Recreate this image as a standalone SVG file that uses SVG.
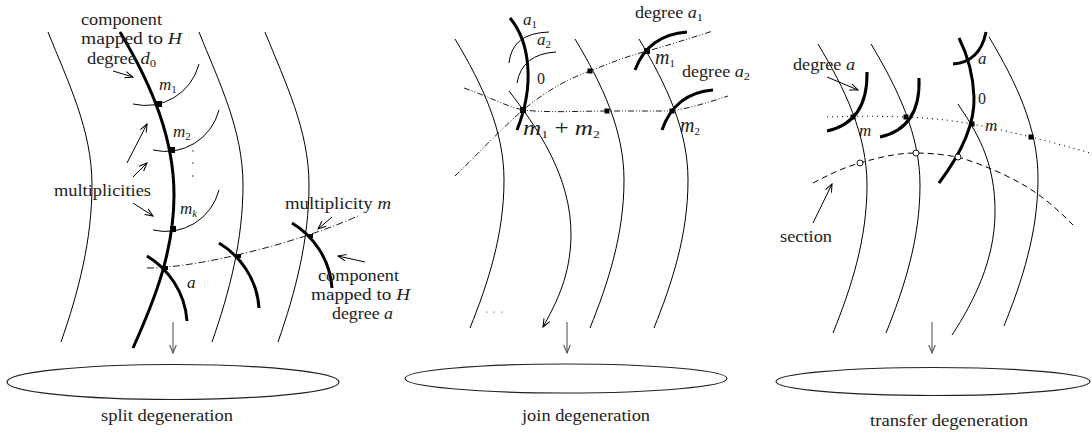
<svg xmlns="http://www.w3.org/2000/svg" width="1092" height="447" viewBox="0 0 1092 447">
<defs>
<style>
.thin{fill:none;stroke:#000;stroke-width:1}
.thick{fill:none;stroke:#000;stroke-width:3}
.dd1{fill:none;stroke:#000;stroke-width:0.9;stroke-dasharray:7 2.5 1 2.5}
.dd2{fill:none;stroke:#000;stroke-width:0.9;stroke-dasharray:6 2 1 2 1 2}
.dot{fill:none;stroke:#000;stroke-width:1.1;stroke-dasharray:1 4}
.dash{fill:none;stroke:#000;stroke-width:1;stroke-dasharray:6 4}
.arr{fill:none;stroke:#000;stroke-width:1;marker-end:url(#ah)}
.down{fill:none;stroke:#555;stroke-width:1.1;marker-end:url(#ahg)}
.base{fill:none;stroke:#222;stroke-width:1.2}
.sq{fill:#000}
.tiny{fill:#333}
.oc{fill:#fff;stroke:#000;stroke-width:0.9}
text{font-family:"Liberation Serif","Times New Roman",serif;fill:#222}
.t{font-size:16px}
.mi{font-size:17px;font-style:italic}
.mb{font-size:20px;font-style:italic}
.it{font-style:italic}
.up{font-style:normal}
.sub{font-size:11px;font-style:normal}
.subi{font-size:11px;font-style:italic}
</style>
<marker id="ah" viewBox="-10 -5 11 10" refX="0" refY="0" markerWidth="11" markerHeight="10" markerUnits="userSpaceOnUse" orient="auto"><path d="M-8,-3.3 L0,0 L-8,3.3" fill="none" stroke="#000" stroke-width="1"/></marker>
<marker id="ahg" viewBox="-10 -5 11 10" refX="0" refY="0" markerWidth="11" markerHeight="10" markerUnits="userSpaceOnUse" orient="auto"><path d="M-8,-3.3 L0,0 L-8,3.3" fill="none" stroke="#555" stroke-width="1.1"/></marker>
<path id="lc" d="M0,0 C20,50 44,98 44,153 C44,208 30.5,260 13,310"/>
<path id="mc" d="M0,0 C27,45 49,91 49,141 C49,196 33,244 15,289"/>
<path id="ma" d="M0,0 A55,55 0 0,0 66,-40"/>
<path id="sa" d="M0,0 C20,12 38,35 40,65"/>
</defs>
<rect width="1092" height="447" fill="#fff"/>

<!-- LEFT PANEL: split degeneration -->
<g id="split">
  <use href="#lc" x="48" y="32" class="thin"/>
  <use href="#lc" x="199" y="32" class="thin"/>
  <use href="#lc" x="265" y="32" class="thin"/>
  <path class="thick" d="M120,32 C153,87 174,140 174,195 C174,250 155.5,298 133,348"/>
  <use href="#ma" x="133" y="104" class="thin"/>
  <use href="#ma" x="153" y="150" class="thin"/>
  <use href="#ma" x="153" y="230" class="thin"/>
  <rect class="sq" x="156" y="101" width="6" height="6"/>
  <rect class="sq" x="169" y="147" width="6" height="6"/>
  <rect class="sq" x="170" y="226" width="6" height="6"/>
  <circle class="tiny" cx="193" cy="151" r="0.8"/>
  <circle class="tiny" cx="193" cy="163" r="0.8"/>
  <circle class="tiny" cx="193" cy="176" r="0.8"/>
  <path class="dd1" d="M147,268 C200,268 300,242 358,216"/>
  <use href="#sa" x="147" y="256" class="thick"/>
  <use href="#sa" x="219" y="243" class="thick"/>
  <use href="#sa" x="292" y="223" class="thick"/>
  <rect class="sq" x="164" y="266" width="4" height="4"/>
  <rect class="sq" x="237" y="254" width="4" height="4"/>
  <rect class="sq" x="309" y="234" width="4" height="4"/>
  <ellipse class="base" cx="173" cy="382" rx="166" ry="17.5"/>
  <text class="t" x="81" y="25" textLength="81" lengthAdjust="spacingAndGlyphs">component</text>
  <text class="t" x="81" y="44" textLength="101" lengthAdjust="spacingAndGlyphs">mapped to <tspan class="it">H</tspan></text>
  <text class="t" x="87" y="64" textLength="69" lengthAdjust="spacingAndGlyphs">degree <tspan class="it">d</tspan><tspan class="sub" dy="3">0</tspan></text>
  <text class="mi" x="159" y="90">m<tspan class="sub" dy="3">1</tspan></text>
  <text class="mi" x="173" y="137">m<tspan class="sub" dy="3">2</tspan></text>
  <text class="mi" x="180" y="214">m<tspan class="subi" dy="3">k</tspan></text>
  <text class="t" x="54" y="196" textLength="97" lengthAdjust="spacingAndGlyphs">multiplicities</text>
  <text class="mi" x="187" y="288">a</text>
  <text class="t" x="285" y="209" textLength="106" lengthAdjust="spacingAndGlyphs">multiplicity <tspan class="it">m</tspan></text>
  <text class="t" x="318" y="281" textLength="81" lengthAdjust="spacingAndGlyphs">component</text>
  <text class="t" x="311" y="300" textLength="99" lengthAdjust="spacingAndGlyphs">mapped to <tspan class="it">H</tspan></text>
  <text class="t" x="332" y="319" textLength="61" lengthAdjust="spacingAndGlyphs">degree <tspan class="it">a</tspan></text>
  <text class="t" x="167" y="421" text-anchor="middle" textLength="132" lengthAdjust="spacingAndGlyphs">split degeneration</text>
</g>

<!-- MIDDLE PANEL: join degeneration -->
<g id="join">
  <use href="#mc" x="455" y="39" class="thin"/>
  <use href="#mc" x="575" y="39" class="thin"/>
  <use href="#mc" x="639" y="39" class="thin"/>
  <path class="thin" d="M509,91 C535,125 572,175 571,237 C570,275 558,300 543,327" marker-end="url(#ah)"/>
  <path class="thick" d="M510,18 C530,42 535,85 517,130"/>
  <path class="thin" d="M509,63 Q512,33 549,32"/>
  <path class="thin" d="M517,83 Q522,54 556,52"/>
  <path class="dd2" d="M455,176 C480,152 500,130 523,110 C545,92 565,80 590,71 C610,63 625,57 647,51 C670,45 690,38 713,31"/>
  <path class="dd2" d="M464,88 C490,97 505,106 523,110 C550,113 580,111 607,111 C630,111 650,111 672,111 C690,108 710,102 728,96"/>
  <path class="thick" d="M635,70 Q648,35 687,32"/>
  <path class="thick" d="M662,130 Q675,93 713,90"/>
  <rect class="sq" x="520" y="107" width="6" height="6"/>
  <rect class="sq" x="587.5" y="68.5" width="5" height="5"/>
  <rect class="sq" x="644" y="48" width="6" height="6"/>
  <rect class="sq" x="604.5" y="108.5" width="5" height="5"/>
  <rect class="sq" x="669.5" y="108.5" width="5" height="5"/>
  <circle class="tiny" cx="487" cy="312" r="0.6"/>
  <circle class="tiny" cx="494" cy="312" r="0.6"/>
  <circle class="tiny" cx="502" cy="312" r="0.6"/>
  <ellipse class="base" cx="566" cy="378.5" rx="161" ry="14.5"/>
  <text class="mi" x="523" y="25">a<tspan class="sub" dy="3">1</tspan></text>
  <text class="mi" x="537" y="45">a<tspan class="sub" dy="3">2</tspan></text>
  <text class="t" x="537" y="84" font-size="17">0</text>
  <text class="mb" x="523" y="135" textLength="77" lengthAdjust="spacingAndGlyphs">m<tspan class="sub" dy="3">1</tspan><tspan class="up" dy="-3"> + </tspan>m<tspan class="sub" dy="3">2</tspan></text>
  <text class="t" x="635" y="18" textLength="68" lengthAdjust="spacingAndGlyphs">degree <tspan class="it">a</tspan><tspan class="sub" dy="3">1</tspan></text>
  <text class="mb" x="655" y="64">m<tspan class="sub" dy="3">1</tspan></text>
  <text class="t" x="682" y="77" textLength="68" lengthAdjust="spacingAndGlyphs">degree <tspan class="it">a</tspan><tspan class="sub" dy="3">2</tspan></text>
  <text class="mb" x="680" y="132">m<tspan class="sub" dy="3">2</tspan></text>
  <text class="t" x="586" y="421" text-anchor="middle" textLength="128" lengthAdjust="spacingAndGlyphs">join degeneration</text>
</g>

<!-- RIGHT PANEL: transfer degeneration -->
<g id="transfer">
  <use href="#mc" x="818" y="44" class="thin"/>
  <use href="#mc" x="871" y="44" class="thin"/>
  <use href="#mc" x="989" y="37" class="thin"/>
  <path class="thin" d="M958,104 C975,130 996,160 995,215 C994,260 975,300 952,335"/>
  <path class="thick" d="M827,131 Q868,122 867,72"/>
  <path class="thick" d="M880,137 Q921,128 919,78"/>
  <path class="thick" d="M939,183 C960,155 975,125 974,97 C973,70 966,52 959,38"/>
  <path class="thick" d="M953,64 Q980,62 986,32"/>
  <path class="dot" d="M827,117 C860,116 880,116 906,117 C930,118 950,120 972,124 C992,128 1010,132 1031,137 C1050,142 1070,147 1090,153"/>
  <path class="dash" d="M813,183 C830,174 845,167 860,163 C880,157 898,153 916,153 C932,153 945,155 958,157 C985,165 1020,180 1043,198 C1055,207 1065,217 1075,227"/>
  <rect class="sq" x="850.5" y="114.5" width="5" height="5"/>
  <rect class="sq" x="903.5" y="114.5" width="5" height="5"/>
  <rect class="sq" x="969.5" y="121.5" width="5" height="5"/>
  <rect class="sq" x="1028.5" y="134.5" width="5" height="5"/>
  <circle class="oc" cx="860" cy="163" r="3"/>
  <circle class="oc" cx="916" cy="153" r="3"/>
  <circle class="oc" cx="958" cy="157" r="3"/>
  <ellipse class="base" cx="933" cy="381.5" rx="157" ry="14"/>
  <text class="t" x="793" y="70" textLength="62" lengthAdjust="spacingAndGlyphs">degree <tspan class="it">a</tspan></text>
  <text class="mi" x="859" y="136">m</text>
  <text class="mi" x="978" y="64">a</text>
  <text class="t" x="978" y="104" font-size="17">0</text>
  <text class="mi" x="985" y="131">m</text>
  <text class="t" x="780" y="242" textLength="52" lengthAdjust="spacingAndGlyphs">section</text>
  <text class="t" x="949" y="426" text-anchor="middle" textLength="158" lengthAdjust="spacingAndGlyphs">transfer degeneration</text>
</g>

<!-- CONNECTORS: label arrows and projection arrows -->
<g id="connectors">
  <line class="arr" x1="113" y1="71" x2="133" y2="77"/>
  <line class="arr" x1="127" y1="163" x2="147" y2="124"/>
  <line class="arr" x1="133" y1="177" x2="147" y2="163"/>
  <line class="arr" x1="133" y1="203" x2="153" y2="216"/>
  <line class="arr" x1="332" y1="217" x2="318" y2="229"/>
  <line class="arr" x1="365" y1="262" x2="338" y2="256"/>
  <line class="arr" x1="827" y1="77" x2="858" y2="90"/>
  <line class="arr" x1="813" y1="223" x2="832" y2="184"/>
  <line class="down" x1="173" y1="322" x2="173" y2="353"/>
  <line class="down" x1="567" y1="322" x2="567" y2="353"/>
  <line class="down" x1="932" y1="322" x2="932" y2="353"/>
</g>
</svg>
